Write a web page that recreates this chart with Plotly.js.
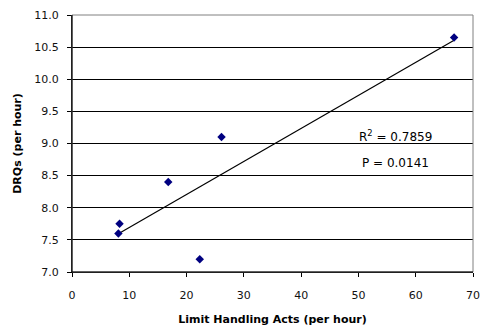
<!DOCTYPE html>
<html><head><meta charset="utf-8">
<script src="https://cdn.plot.ly/plotly-3.0.1.min.js"></script>
<style>html,body{margin:0;padding:0;background:#fff}#chart{width:482px;height:327px}</style>
</head><body><div id="chart"></div>
<script>
const limitActs = [8.1, 8.3, 16.8, 22.3, 26.1, 66.7];
const drqs = [7.6, 7.75, 8.4, 7.2, 9.1, 10.65];
const annotationTexts = ["R<sup>2</sup> = 0.7859", "P = 0.0141"];
const xTicks = [0, 10, 20, 30, 40, 50, 60, 70];
const yTicks = [7.0, 7.5, 8.0, 8.5, 9.0, 9.5, 10.0, 10.5, 11.0];

// least squares trend line computed from the data
const n = limitActs.length;
const mx = limitActs.reduce((a,b)=>a+b,0)/n;
const my = drqs.reduce((a,b)=>a+b,0)/n;
let sxy=0, sxx=0;
for (let i=0;i<n;i++){ sxy += (limitActs[i]-mx)*(drqs[i]-my); sxx += (limitActs[i]-mx)**2; }
const slope = sxy/sxx, icpt = my - slope*mx;
const xmin = Math.min(...limitActs), xmax = Math.max(...limitActs);

const font = {family: '"DejaVu Sans", Arial, sans-serif', size: 11, color: '#000'};
const tfont = {...font, color:'#111'};
const data = [
  {x:[xmin,xmax], y:[icpt+slope*xmin, icpt+slope*xmax], mode:'lines', line:{color:'#000', width:1.2}, hoverinfo:'skip'},
  {x:limitActs, y:drqs, mode:'markers', marker:{symbol:'diamond', color:'#000080', size:6.5}}
];
const layout = {
  width:482, height:327, showlegend:false,
  margin:{l:72, r:9, t:15, b:55},
  paper_bgcolor:'#fff', plot_bgcolor:'#fff', font:font,
  xaxis:{range:[0,70], tickvals:xTicks, ticktext:xTicks.map(String), showgrid:false, zeroline:false,
    showline:true, linecolor:'#000', linewidth:1, ticks:'outside', ticklen:4, tickcolor:'#000',
    tickfont:tfont, ticklabelstandoff:9,
    title:{text:'<b>Limit Handling Acts (per hour)</b>', font:font, standoff:14}},
  yaxis:{range:[7,11], tickvals:yTicks, ticktext:yTicks.map(v=>v.toFixed(1)), showgrid:true, gridcolor:'#000', gridwidth:1,
    zeroline:false, showline:true, linecolor:'#000', linewidth:1, ticks:'outside', ticklen:4, tickcolor:'#000',
    tickfont:tfont, ticklabelstandoff:6,
    title:{text:'<b>DRQs (per hour)</b>', font:font, standoff:10}},
  shapes:[{type:'rect', xref:'paper', yref:'paper', x0:0, x1:1, y0:0, y1:1, line:{color:'#808080', width:1}, layer:'above'},
          {type:'line', xref:'paper', yref:'paper', x0:0, x1:0, y0:0, y1:1, line:{color:'#000', width:1}, layer:'above'},
          {type:'line', xref:'paper', yref:'paper', x0:0, x1:1, y0:0, y1:0, line:{color:'#000', width:1}, layer:'above'}],
  annotations:[
    {x:56.5, y:9.12, xref:'x', yref:'y', text:annotationTexts[0], showarrow:false, font:{...font, size:12}},
    {x:56.5, y:8.70, xref:'x', yref:'y', text:annotationTexts[1], showarrow:false, font:{...font, size:12}}
  ]
};
Plotly.newPlot('chart', data, layout, {displayModeBar:false, staticPlot:true});
</script></body></html>
